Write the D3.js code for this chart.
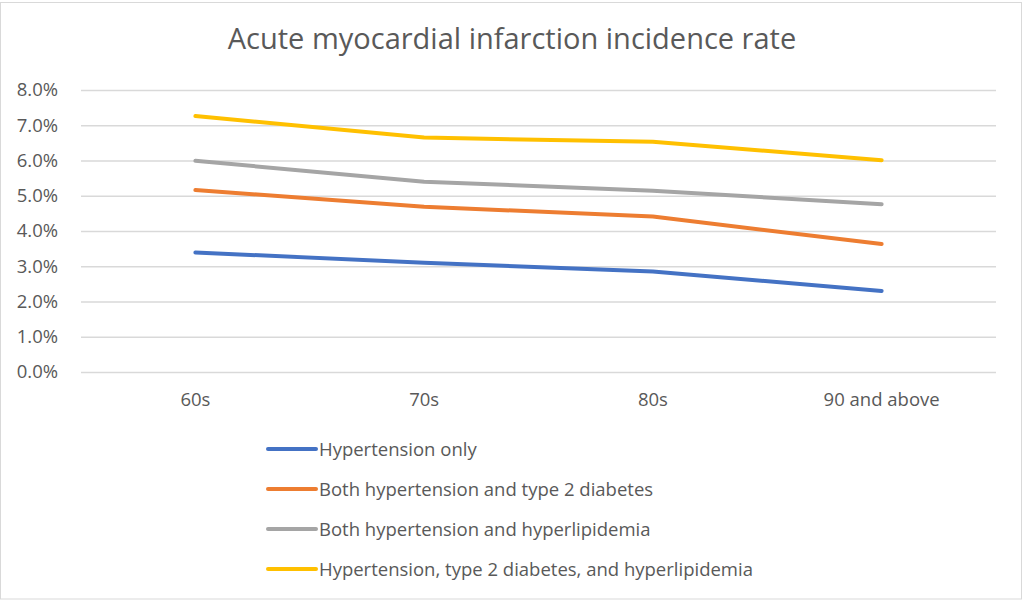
<!DOCTYPE html>
<html>
<head>
<meta charset="utf-8">
<script src="https://cdn.jsdelivr.net/npm/d3@7"></script>
<style>
  body { margin: 0; background: #fff; }
  text { font-family: "Open Sans", sans-serif; fill: #595959; }
</style>
</head>
<body>
<div id="chart"></div>
<script>
// data (percent)
var categories = ["60s", "70s", "80s", "90 and above"];
var seriesNames = [
    "Hypertension only",
    "Both hypertension and type 2 diabetes",
    "Both hypertension and hyperlipidemia",
    "Hypertension, type 2 diabetes, and hyperlipidemia"
];
var hypertensionOnly = [3.39, 3.10, 2.85, 2.30];
var hypertensionDiabetes = [5.16, 4.69, 4.41, 3.63];
var hypertensionLipid = [5.99, 5.40, 5.14, 4.76];
var allThree = [7.26, 6.65, 6.53, 6.01];
var yTicks = [0, 1, 2, 3, 4, 5, 6, 7, 8];
var colors = ["#4472C4", "#ED7D31", "#A5A5A5", "#FFC000"];

var seriesValues = [hypertensionOnly, hypertensionDiabetes, hypertensionLipid, allThree];

var W = 1024, H = 602;
var margin = {top: 90, right: 28, bottom: 230, left: 81},
    width = W - margin.left - margin.right,
    height = H - margin.top - margin.bottom;

var root = d3.select("#chart")
    .append("svg")
    .attr("width", W)
    .attr("height", H);

// outer chart border
root.append("rect")
    .attr("x", 0.5)
    .attr("y", 2.5)
    .attr("width", 1021)
    .attr("height", 596.5)
    .attr("fill", "none")
    .attr("stroke", "#d9d9d9");

root.append("text")
    .attr("x", 512)
    .attr("y", 49)
    .attr("text-anchor", "middle")
    .attr("font-size", "29px")
    .text("Acute myocardial infarction incidence rate");

var svg = root.append("g")
    .attr("transform", "translate(" + margin.left + "," + margin.top + ")");

var x = d3.scaleBand()
    .domain(categories)
    .range([0, width]);

var y = d3.scaleLinear()
    .domain([0, 8])
    .range([height, 0]);

// gridlines
svg.append("g")
    .call(d3.axisLeft(y).tickValues(yTicks).tickSize(-width).tickFormat(""))
    .call(function (g) {
        g.select(".domain").remove();
        g.selectAll("line").attr("stroke", "#d9d9d9").attr("stroke-width", 1.3);
    });

// y labels
svg.append("g")
    .call(d3.axisLeft(y).tickValues(yTicks).tickSize(0).tickPadding(23)
        .tickFormat(function (d) { return d.toFixed(1) + "%"; }))
    .call(function (g) {
        g.select(".domain").remove();
        g.selectAll("text").attr("font-size", "18.5px").attr("fill", "#595959")
            .attr("font-family", "Open Sans");
    });

// x labels
svg.append("g")
    .attr("transform", "translate(0," + height + ")")
    .call(d3.axisBottom(x).tickSize(0).tickPadding(21))
    .call(function (g) {
        g.select(".domain").remove();
        g.selectAll("text").attr("font-size", "18.5px").attr("fill", "#595959")
            .attr("font-family", "Open Sans");
    });

var line = d3.line()
    .x(function (d, i) { return x(categories[i]) + x.bandwidth() / 2; })
    .y(function (d) { return y(d); });

svg.selectAll(".series")
    .data(seriesValues)
    .enter().append("path")
    .attr("class", "series")
    .attr("d", line)
    .attr("fill", "none")
    .attr("stroke", function (d, i) { return colors[i]; })
    .attr("stroke-width", 4)
    .attr("stroke-linecap", "round")
    .attr("stroke-linejoin", "round");

// legend
var legend = root.append("g")
    .selectAll("g")
    .data(seriesNames)
    .enter().append("g")
    .attr("transform", function (d, i) { return "translate(268," + (449 + i * 40) + ")"; });

legend.append("line")
    .attr("x1", 0)
    .attr("x2", 48)
    .attr("stroke", function (d, i) { return colors[i]; })
    .attr("stroke-width", 4)
    .attr("stroke-linecap", "round");

legend.append("text")
    .attr("x", 51)
    .attr("dy", "0.36em")
    .attr("font-size", "18.5px")
    .text(function (d) { return d; });
</script>
</body>
</html>
